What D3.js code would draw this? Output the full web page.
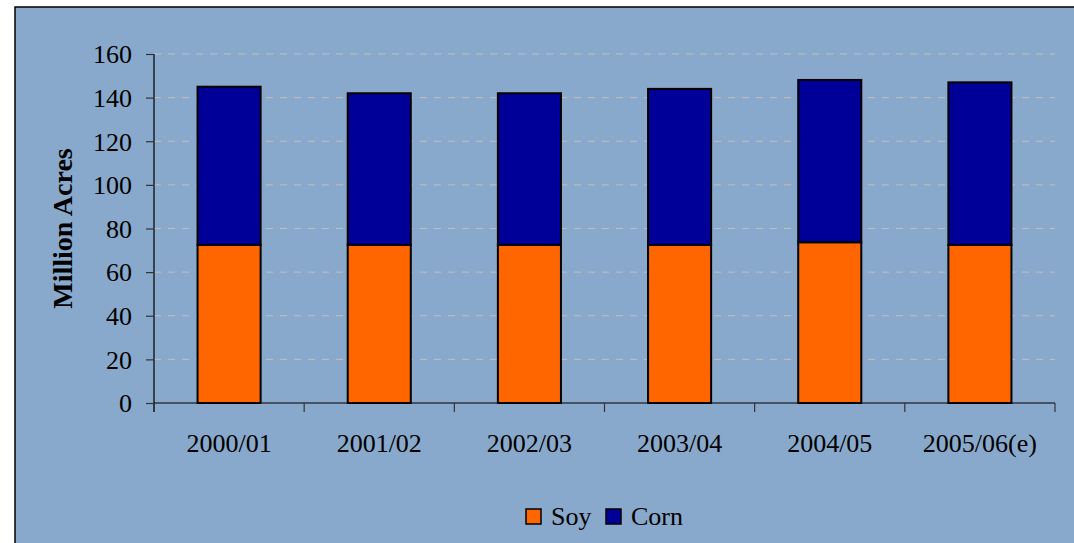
<!DOCTYPE html>
<html>
<head>
<meta charset="utf-8">
<script src="https://cdn.jsdelivr.net/npm/d3@7"></script>
<style>
  html, body { margin: 0; padding: 0; background: #ffffff; }
  svg { display: block; }
  text { font-family: "Liberation Serif", "Times New Roman", serif; fill: #000; }
</style>
</head>
<body>
<svg id="chart" width="1074" height="543"></svg>
<script>
const categories = ["2000/01", "2001/02", "2002/03", "2003/04", "2004/05", "2005/06(e)"];
const soy = [72.5, 72.5, 72.5, 72.5, 73.7, 72.5];
const corn = [72.5, 69.5, 69.5, 71.5, 74.4, 74.5];
const seriesNames = ["Soy", "Corn"];
const seriesColors = ["#FF6600", "#000099"];
const yTicks = [0, 20, 40, 60, 80, 100, 120, 140, 160];

(function () {
const svg = d3.select("#chart");
const W = 1074, H = 543;

svg.append("rect")
  .attr("x", 15).attr("y", 7)
  .attr("width", W - 15 + 5).attr("height", H - 7 + 5)
  .attr("fill", "#88A9CB")
  .attr("stroke", "#000").attr("stroke-width", 1.5);

const mLeft = 154, mRight = 1055, mTop = 54, mBottom = 403;

const x = d3.scaleBand().domain(categories).range([mLeft, mRight]).paddingInner(0.58).paddingOuter(0.29);
const y = d3.scaleLinear().domain([0, 160]).range([mBottom, mTop]);

svg.append("g").selectAll("line").data(yTicks.filter(d => d > 0)).join("line")
  .attr("x1", mLeft).attr("x2", mRight)
  .attr("y1", d => y(d)).attr("y2", d => y(d))
  .attr("stroke", "#C0C0C0").attr("stroke-width", 1)
  .attr("stroke-dasharray", "7,7");

const table = categories.map((c, i) => ({ cat: c, Soy: soy[i], Corn: corn[i] }));
const stack = d3.stack().keys(seriesNames)(table);

svg.append("g").selectAll("g").data(stack).join("g")
  .attr("fill", (d, i) => seriesColors[i])
  .selectAll("rect").data(d => d).join("rect")
  .attr("x", d => x(d.data.cat))
  .attr("width", x.bandwidth())
  .attr("y", d => y(d[1]))
  .attr("height", d => y(d[0]) - y(d[1]))
  .attr("stroke", "#000").attr("stroke-width", 2);

const yAxis = svg.append("g").attr("transform", `translate(${mLeft},0)`)
  .call(d3.axisLeft(y).tickValues(yTicks).tickSize(8).tickPadding(14).tickFormat(d3.format("d")));
yAxis.select(".domain").attr("stroke", "#000").attr("stroke-width", 1.2).attr("d", `M0,${mTop}V${mBottom + 9}`);
yAxis.selectAll(".tick line").attr("stroke", "#333").attr("stroke-width", 1.2);
yAxis.selectAll("text").style("font-size", "26px").attr("dy", "0.34em");

const xAxis = svg.append("g").attr("transform", `translate(0,${mBottom})`);
xAxis.append("line").attr("x1", mLeft).attr("x2", mRight).attr("y1", 0).attr("y2", 0)
  .attr("stroke", "#000").attr("stroke-width", 1.2);
const bounds = d3.range(categories.length + 1).map(i => mLeft + i * (mRight - mLeft) / categories.length);
xAxis.selectAll("line.tk").data(bounds).join("line").attr("class", "tk")
  .attr("x1", d => d).attr("x2", d => d).attr("y1", 0).attr("y2", 9)
  .attr("stroke", "#333").attr("stroke-width", 1.2);
xAxis.selectAll("text").data(categories).join("text")
  .attr("x", d => x(d) + x.bandwidth() / 2)
  .attr("y", 49)
  .attr("text-anchor", "middle")
  .style("font-size", "26px")
  .text(d => d);

svg.append("text")
  .attr("transform", `translate(72,${(mTop + mBottom) / 2}) rotate(-90)`)
  .attr("text-anchor", "middle")
  .style("font-size", "28px").style("font-weight", "bold")
  .text("Million Acres");

const legendItems = [{ name: "Soy", x: 526 }, { name: "Corn", x: 606 }];
const lg = svg.append("g");
legendItems.forEach((it, i) => {
  lg.append("rect").attr("x", it.x).attr("y", 509).attr("width", 15).attr("height", 15)
    .attr("fill", seriesColors[i]).attr("stroke", "#000").attr("stroke-width", 1.5);
  lg.append("text").attr("x", it.x + 25).attr("y", 525).style("font-size", "26px").text(it.name);
});
})();
</script>
</body>
</html>
